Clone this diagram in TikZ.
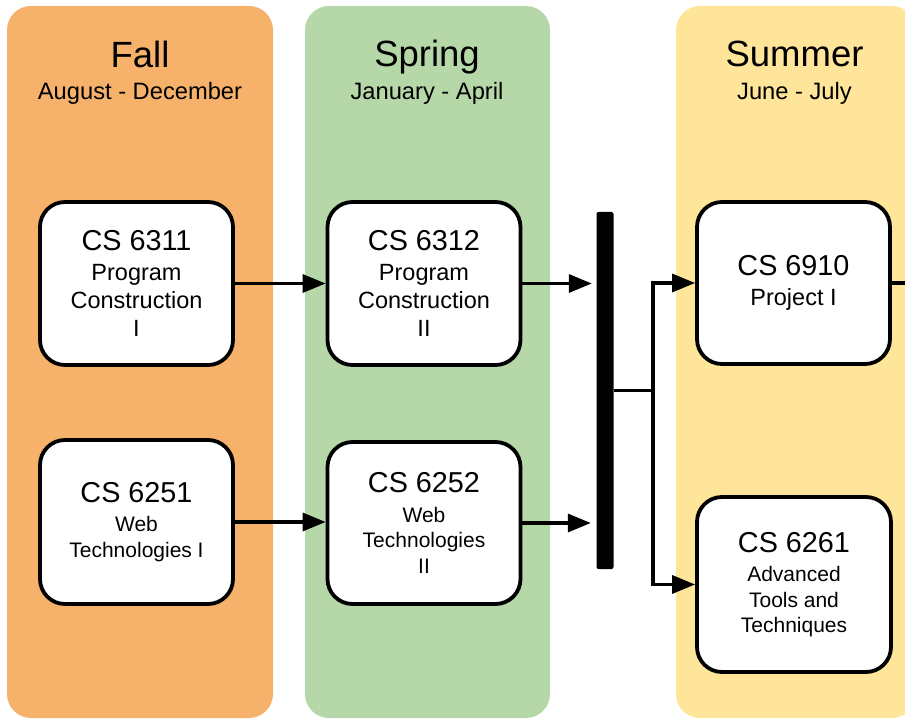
\documentclass[tikz,border=0pt]{standalone}
\usepackage{fontspec}
\setmainfont{Liberation Sans}
\usetikzlibrary{arrows.meta}
\definecolor{fallc}{HTML}{F6B26B}
\definecolor{springc}{HTML}{B6D7A8}
\definecolor{summerc}{HTML}{FFE599}
\tikzset{
  column/.style={rounded corners=24pt, draw=none},
  title/.style={anchor=base, inner sep=0pt, font=\fontsize{36.5}{40}\selectfont},
  subtitle/.style={anchor=base, inner sep=0pt, font=\fontsize{23.7}{27}\selectfont},
  course/.style={draw=black, fill=white, line width=3.8pt, rounded corners=25pt,
    minimum width=193pt, minimum height=163pt, align=center, inner sep=0pt},
  bigsub/.style={font=\fontsize{23.5}{28}\selectfont},
  smallsub/.style={font=\fontsize{21}{25.5}\selectfont},
  conn/.style={line width=3.4pt},
  arr/.style={line width=3.4pt, -{Triangle[length=23pt,width=18pt]}},
}
\newcommand{\hd}[1]{{\fontsize{28.8}{30}\selectfont #1}}
\begin{document}
\begin{tikzpicture}[x=1pt,y=-1pt]
\clip (0,0) rectangle (905,719);
\useasboundingbox (0,0) rectangle (905,719);
% columns
\fill[column, fallc] (7,6) rectangle (273,718);
\fill[column, springc] (305,6) rectangle (550,718);
\fill[column, summerc] (676,6) rectangle (916,718);
% titles
\node[title] (tfall) at (140,68) {Fall};
\node[subtitle] (sfall) at (140,100) {August - December};
\node[title] (tspring) at (427,67) {Spring};
\node[subtitle] (sspring) at (427,100) {January - April};
\node[title] (tsummer) at (794.5,67) {Summer};
\node[subtitle] (ssummer) at (794.5,100) {June - July};
% courses
\node[course, bigsub] (a1) at (136.5,283.5) {\hd{CS 6311}\\[1.5pt] Program\\ Construction\\ I};
\node[course, smallsub, minimum height=164pt] (a2) at (136.5,522) {\hd{CS 6251}\\[4pt] Web\\ Technologies I};
\node[course, bigsub] (b1) at (424,283.5) {\hd{CS 6312}\\[1.5pt] Program\\ Construction\\ II};
\node[course, smallsub, minimum height=162pt] (b2) at (424,523) {\hd{CS 6252}\\[4pt] Web\\ Technologies\\ II};
\node[course, bigsub, minimum height=162pt] (c1) at (793.5,283) {\hd{CS 6910}\\[1.5pt] Project I};
\node[course, smallsub, minimum width=194pt, minimum height=175pt] (c2) at (794,584.5) {\hd{CS 6261}\\[4pt] Advanced\\ Tools and\\ Techniques};
% bar
\node[fill=black, rounded corners=2pt, minimum width=17pt, minimum height=357pt, inner sep=0pt] (bar) at (605,390.5) {};
\coordinate (j) at (653,390.5);
\coordinate (out) at (910,283);
% connectors
\draw[arr] (a1.east) -- (b1.west |- a1.east);
\draw[arr] (a2.east) -- (b2.west |- a2.east);
\draw[arr, shorten >=4.5pt] (b1.east) -- (bar.west |- b1.east);
\draw[arr, shorten >=5.5pt] (b2.east) -- (bar.west |- b2.east);
\draw[conn] (bar.east) -- (j);
\draw[arr] (j) |- (c1.west);
\draw[arr] (j) |- (c2.west);
\draw[conn] (c1.east) -- (out);
\end{tikzpicture}
\end{document}
